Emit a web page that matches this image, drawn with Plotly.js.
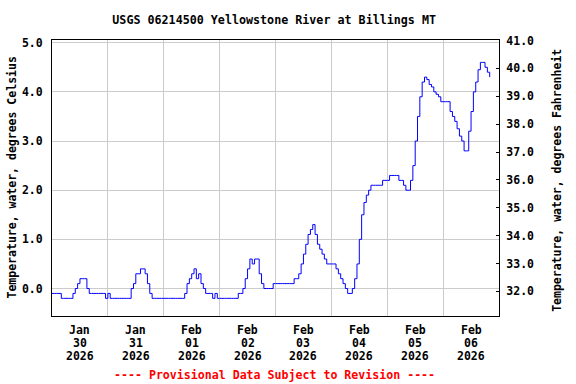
<!DOCTYPE html>
<html>
<head>
<meta charset="utf-8">
<script src="https://cdn.plot.ly/plotly-3.0.1.min.js"></script>
<style>html,body{margin:0;padding:0;background:#fff;}#chart{width:576px;height:384px;}</style>
</head>
<body>
<div id="chart"></div>
<script>
// Hourly water temperature (deg C)
const jan30 = [-0.1,-0.1,-0.1,-0.1,-0.2,-0.2,-0.2,-0.2,-0.2,-0.1,0.0,0.1,0.2,0.2,0.2,0.0,-0.1,-0.1,-0.1,-0.1,-0.1,-0.1,-0.1,-0.2];
const jan31 = [-0.1,-0.2,-0.2,-0.2,-0.2,-0.2,-0.2,-0.2,-0.2,-0.2,0.0,0.1,0.3,0.3,0.4,0.4,0.3,0.1,-0.1,-0.2,-0.2,-0.2,-0.2,-0.2];
const feb01 = [-0.2,-0.2,-0.2,-0.2,-0.2,-0.2,-0.2,-0.2,-0.2,-0.1,0.1,0.2,0.3,0.4,0.2,0.3,0.1,0.0,-0.1,-0.1,-0.1,-0.2,-0.1,-0.2];
const feb02 = [-0.2,-0.2,-0.2,-0.2,-0.2,-0.2,-0.2,-0.2,-0.1,-0.1,0.0,0.2,0.4,0.6,0.5,0.6,0.6,0.3,0.1,0.0,0.0,0.0,0.0,0.1];
const feb03 = [0.1,0.1,0.1,0.1,0.1,0.1,0.1,0.1,0.2,0.2,0.3,0.5,0.7,0.9,1.1,1.2,1.3,1.1,0.9,0.8,0.7,0.6,0.5,0.5];
const feb04 = [0.5,0.5,0.4,0.3,0.2,0.1,0.0,-0.1,-0.1,0.0,0.2,0.5,1.0,1.5,1.75,1.9,2.0,2.1,2.1,2.1,2.1,2.1,2.2,2.2];
const feb05 = [2.2,2.3,2.3,2.3,2.3,2.2,2.2,2.1,2.0,2.0,2.2,2.5,3.0,3.5,3.9,4.2,4.3,4.25,4.15,4.1,4.0,3.95,3.9,3.8];
const feb06 = [3.8,3.8,3.8,3.6,3.5,3.4,3.25,3.1,3.0,2.8,2.8,3.2,3.6,4.0,4.2,4.45,4.6,4.6,4.5,4.4,4.3];

const dayStarts = ['2026-01-30','2026-01-31','2026-02-01','2026-02-02','2026-02-03','2026-02-04','2026-02-05','2026-02-06','2026-02-07'];
const labelMonths = ['Jan','Jan','Feb','Feb','Feb','Feb','Feb','Feb'];
const labelDays = ['30','31','01','02','03','04','05','06'];
const labelYears = ['2026','2026','2026','2026','2026','2026','2026','2026'];
const celsiusTicks = [0,1,2,3,4,5];
const fahrenheitTicks = [32,33,34,35,36,37,38,39,40,41];

const temps = [].concat(jan30, jan31, feb01, feb02, feb03, feb04, feb05, feb06);
const startMs = Date.UTC(2026,0,30,0,0,0);
const times = temps.map((v,i) => new Date(startMs + i*3600000).toISOString().slice(0,19));

const FONT = '"DejaVu Sans Mono", "Liberation Mono", monospace';
const fnt = (size, color) => ({family: FONT, size: size, color: color || '#000', weight: 'bold'});

const traces = [
  {x: times, y: temps, type: 'scatter', mode: 'lines', line: {color: '#0000ff', width: 1, shape: 'hv'},
   showlegend: false, hoverinfo: 'skip'},
  {x: [times[0]], y: [null], type: 'scatter', mode: 'lines', yaxis: 'y2', showlegend: false, hoverinfo: 'skip'}
];

const annotations = [];
for (let i = 0; i < labelDays.length; i++) {
  const noon = dayStarts[i] + ' 12:00';
  [[labelMonths[i], -14], [labelDays[i], -27], [labelYears[i], -40]].forEach(([t, s]) => {
    annotations.push({x: noon, xref: 'x', y: 0, yref: 'paper', yanchor: 'middle', xanchor: 'center',
      yshift: s, text: t, showarrow: false, font: fnt(11.5)});
  });
}
annotations.push({x: 0.497, xref: 'paper', y: 0, yref: 'paper', yanchor: 'middle', xanchor: 'center', yshift: -59,
  text: '---- Provisional Data Subject to Revision ----', showarrow: false, font: fnt(11.6, '#ff0000')});
annotations.push({x: -0.0906, xref: 'paper', y: 0.5, yref: 'paper', xanchor: 'center', yanchor: 'middle', textangle: -90,
  text: 'Temperature, water, degrees Celsius', showarrow: false, font: fnt(11.5)});
annotations.push({x: 1.13, xref: 'paper', y: 0.49, yref: 'paper', xanchor: 'center', yanchor: 'middle', textangle: -90,
  text: 'Temperature, water, degrees Fahrenheit', showarrow: false, font: fnt(11.5)});

const layout = {
  width: 576, height: 384,
  margin: {l: 52, r: 77, t: 40, b: 68, pad: 0},
  paper_bgcolor: '#ffffff', plot_bgcolor: '#ffffff',
  title: {text: 'USGS 06214500 Yellowstone River at Billings MT', font: fnt(11.7),
          x: 0.497, xref: 'paper', xanchor: 'center', y: 1 - 20/384, yref: 'container', yanchor: 'middle'},
  xaxis: {type: 'date', range: [dayStarts[0] + ' 00:00', dayStarts[8] + ' 00:00'],
          tick0: dayStarts[0], dtick: 86400000, showticklabels: false, ticks: '',
          showgrid: true, gridcolor: '#cccccc', gridwidth: 1, zeroline: false,
          showline: true, mirror: true, linecolor: '#000', linewidth: 1},
  yaxis: {range: [-0.559, 5.055], tickvals: celsiusTicks, tickformat: '.1f', ticks: 'outside', ticklen: 6,
          tickcolor: 'rgba(0,0,0,0)', showgrid: true, gridcolor: '#cccccc', gridwidth: 1, zeroline: false,
          showline: true, mirror: true, linecolor: '#000', linewidth: 1, tickfont: fnt(11.5)},
  yaxis2: {overlaying: 'y', side: 'right', range: [31.115, 41.02], tickvals: fahrenheitTicks, tickformat: '.1f',
           ticks: 'inside', ticklen: 3, tickcolor: '#000', showgrid: false, zeroline: false,
           showline: true, linecolor: '#000', linewidth: 1, tickfont: fnt(11.5), ticklabelstandoff: 4},
  annotations: annotations
};

Plotly.newPlot('chart', traces, layout, {displayModeBar: false, staticPlot: true});
</script>
</body>
</html>
